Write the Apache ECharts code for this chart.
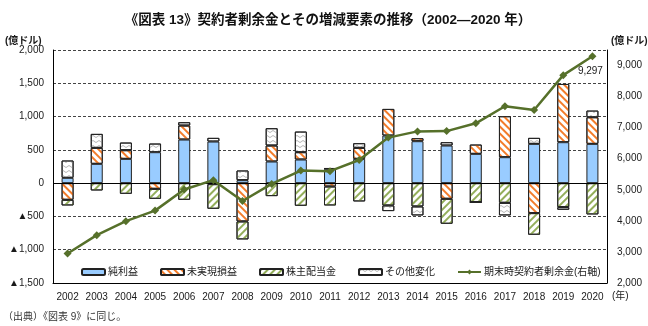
<!DOCTYPE html>
<html>
<head>
<meta charset="utf-8">
<script src="https://cdn.jsdelivr.net/npm/echarts@6/dist/echarts.min.js"></script>
<style>
  html, body { margin: 0; padding: 0; background: #fff; }
  #chart { width: 648px; height: 326px; }
</style>
</head>
<body>
<div id="chart"></div>
<script>
// 年次
var years = ['2002','2003','2004','2005','2006','2007','2008','2009','2010','2011',
             '2012','2013','2014','2015','2016','2017','2018','2019','2020'];
// 増減要素（億ドル, 左軸）
var netIncome  = [80, 290, 365, 465, 655, 625, 45, 325, 355, 215, 365, 715, 630, 565, 440, 390, 590, 615, 590];
var unrealized = [-250, 240, 130, -85, 210, -15, -575, 240, 110, -50, 165, 400, 45, -235, 140, 615, -450, 875, 400];
var dividends  = [-85, -110, -160, -150, -250, -370, -270, -195, -340, -285, -275, -335, -350, -375, -285, -295, -325, -360, -470];
var other      = [260, 210, 115, 130, 50, 55, 145, 260, 310, 10, 70, -85, -135, 50, 0, -190, 90, -40, 100];
// 期末時契約者剰余金（億ドル, 右軸）
var surplus    = [2950, 3540, 3990, 4330, 5010, 5310, 4640, 5190, 5620, 5600, 5960, 6680, 6880, 6890, 7140, 7690, 7570, 8690, 9297];

var names = ['純利益', '未実現損益', '株主配当金', 'その他変化', '期末時契約者剰余金(右軸)'];

var FONT = '"Liberation Sans", "Noto Sans CJK JP", sans-serif';
var TXT = '#1a1a1a';

function fmt(v) {
  return Math.abs(v).toString().replace(/\B(?=(\d{3})+(?!\d))/g, ',');
}

var barBase = {
  type: 'bar',
  stack: 'chg',
  barWidth: 12,
  yAxisIndex: 0
};
function barStyle(color, decal) {
  var s = {
    color: color,
    borderColor: '#222',
    borderWidth: 1
  };
  if (decal) s.decal = decal;
  return s;
}

var chart = echarts.init(document.getElementById('chart'), null, { renderer: 'canvas' });

chart.setOption({
  animation: false,
  backgroundColor: '#fff',
  textStyle: { fontFamily: FONT },
  title: {
    text: '《図表 13》契約者剰余金とその増減要素の推移（2002―2020 年）',
    left: 323,
    textAlign: 'center',
    top: 9,
    textStyle: { fontFamily: FONT, fontSize: 13.5, fontWeight: 'bold', color: '#111' }
  },
  graphic: [
    { type: 'text', left: 5, top: 36, style: { text: '(億ドル)', font: 'bold 10px ' + FONT, fill: TXT } },
    { type: 'text', left: 611, top: 36, style: { text: '(億ドル)', font: 'bold 10px ' + FONT, fill: TXT } },
    { type: 'text', left: 612, top: 291, style: { text: '(年)', font: '10px ' + FONT, fill: TXT } },
    { type: 'text', left: 3, top: 312, style: { text: '（出典）《図表 9》に同じ。', font: '10px ' + FONT, fill: '#333' } }
  ],
  legend: {
    left: 76,
    top: 262,
    itemWidth: 23,
    itemHeight: 6,
    itemGap: 22,
    data: names,
    textStyle: { fontFamily: FONT, fontSize: 10, color: TXT, padding: [0, 0, 0, -2] }
  },
  grid: { left: 53, right: 41, top: 50, bottom: 43 },
  xAxis: {
    type: 'category',
    data: years,
    axisLine: { onZero: false, lineStyle: { color: '#000', width: 1 } },
    axisTick: { show: false },
    axisLabel: { color: TXT, fontSize: 10, margin: 9, fontFamily: FONT }
  },
  yAxis: [
    {
      type: 'value',
      min: -1500,
      max: 2000,
      interval: 500,
      axisLine: { show: true, lineStyle: { color: '#000', width: 1 } },
      axisTick: { show: false },
      axisLabel: {
        color: TXT, fontSize: 10, margin: 9, fontFamily: FONT,
        formatter: function (v) { return v < 0 ? '▲' + fmt(v) : fmt(v); }
      },
      splitLine: { show: true, lineStyle: { color: '#444', type: [3, 2], width: 1 } }
    },
    {
      type: 'value',
      min: 2000,
      max: 9500,
      interval: 1000,
      position: 'right',
      axisLine: { show: true, lineStyle: { color: '#000', width: 1 } },
      axisTick: { show: false },
      axisLabel: {
        color: TXT, fontSize: 10, margin: 10, fontFamily: FONT, showMaxLabel: false,
        formatter: function (v) { return v > 9000 ? '' : fmt(v); }
      },
      splitLine: { show: false }
    }
  ],
  series: [
    Object.assign({}, barBase, {
      name: names[0],
      data: netIncome,
      itemStyle: barStyle('#99CCFF'),
      markLine: {
        silent: true,
        symbol: 'none',
        label: { show: false },
        lineStyle: { color: '#000', type: 'solid', width: 1 },
        data: [{ yAxis: 0 }]
      }
    }),
    Object.assign({}, barBase, {
      name: names[1],
      data: unrealized,
      itemStyle: barStyle('#ffffff', {
        symbol: 'rect', symbolSize: 1, color: '#F37C2A',
        dashArrayX: [1, 0], dashArrayY: [2, 2.5], rotation: Math.PI / 4
      })
    }),
    Object.assign({}, barBase, {
      name: names[2],
      data: dividends,
      itemStyle: barStyle('#ffffff', {
        symbol: 'rect', symbolSize: 1, color: '#93AE5A',
        dashArrayX: [1, 0], dashArrayY: [1.3, 2.7], rotation: -Math.PI / 4
      })
    }),
    Object.assign({}, barBase, {
      name: names[3],
      data: other,
      itemStyle: barStyle('#ffffff', {
        symbol: 'path://M0,2 L3,0 L6,2 L6,3 L3,1 L0,3 Z', symbolSize: 1, color: '#B4B4B4',
        dashArrayX: [6, 0], dashArrayY: [3, 2]
      })
    }),
    {
      name: names[4],
      type: 'line',
      yAxisIndex: 1,
      data: surplus,
      z: 5,
      symbol: 'diamond',
      symbolSize: 8,
      color: '#56702A',
      lineStyle: { color: '#56702A', width: 2.5 },
      itemStyle: { color: '#56702A' },
      label: {
        show: true,
        position: 'bottom',
        offset: [-2, 1],
        fontSize: 10,
        color: TXT,
        fontFamily: FONT,
        formatter: function (p) {
          return p.dataIndex === surplus.length - 1 ? fmt(p.value) : '';
        }
      }
    }
  ]
});
</script>
</body>
</html>
